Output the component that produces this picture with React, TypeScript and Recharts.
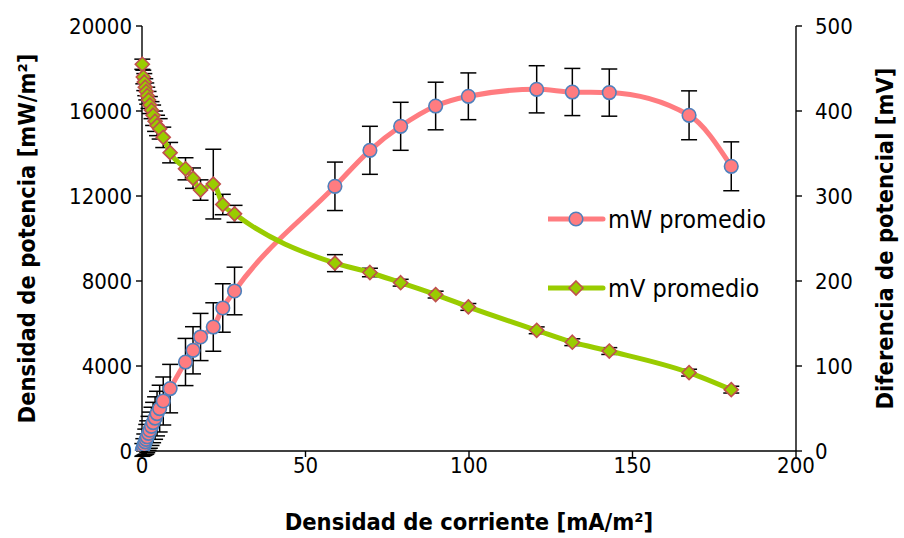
import React from 'react'
import { ComposedChart, Line, XAxis, YAxis, ErrorBar, Legend } from 'recharts'

// corriente [mA/m2]
const currentDensity = [
  0.1, 0.4, 0.7, 1.0, 1.3, 1.6, 2.0, 2.4, 2.9, 3.4, 4.0, 4.6, 5.4, 6.5, 8.6,
  13.3, 15.6, 17.9, 21.8, 24.7, 28.3, 59.0, 69.7, 79.1, 89.8, 99.8, 120.7,
  131.6, 142.9, 167.3, 180.2,
]
// potencia promedio [mW/m2]
const powerMean = [
  50, 180, 300, 430, 550, 670, 830, 980, 1160, 1340, 1550, 1760, 1995, 2353, 2936,
  4188, 4739, 5365, 5835, 6730, 7530, 12456, 14150, 15280, 16235, 16692, 17021,
  16894, 16866, 15798, 13398,
]
const powerErr = [
  300, 400, 500, 600, 700, 750, 800, 850, 900, 950, 1000, 1050, 1100, 1130, 1140,
  1110, 1110, 1110, 1140, 1140, 1120, 1140, 1130, 1130, 1120, 1100, 1110,
  1110, 1110, 1150, 1150,
]
// diferencia de potencial [mV]
const voltageMean = [
  455, 440, 434, 428, 423, 418, 413, 407, 401, 395, 388, 383, 379, 369, 351,
  332, 321, 307, 314, 290, 279, 221, 210, 198, 184, 169.5, 142,
  128, 117.6, 92.2, 72.2,
]
const voltageErr = [
  6, 8, 10, 10, 10, 10, 10, 10, 10, 12, 12, 12, 12, 12, 12,
  13, 12, 12, 41, 12, 10, 10, 5, 4, 4, 4, 4,
  4, 4, 4, 4,
]

const xTicks = [0, 50, 100, 150, 200]
const leftTicks = [0, 4000, 8000, 12000, 16000, 20000]
const rightTicks = [0, 100, 200, 300, 400, 500]

const data = currentDensity.map((x, i) => ({
  x,
  mW: powerMean[i],
  mWErr: powerErr[i],
  mV: voltageMean[i],
  mVErr: voltageErr[i],
}))

const FONT = "'DejaVu Sans Condensed', 'DejaVu Sans', sans-serif"
const PINK = '#FF7C80'
const GREEN = '#99CC00'

const Circle = (props: any) => {
  const { cx, cy, index } = props
  if (cx == null || cy == null) return null
  return <circle key={`c${index}`} cx={cx} cy={cy} r={6.8} fill={PINK} stroke="#4F81BD" strokeWidth={1.6} />
}

const Diamond = (props: any) => {
  const { cx, cy, index } = props
  if (cx == null || cy == null) return null
  const s = 7
  return (
    <polygon
      key={`d${index}`}
      points={`${cx},${cy - s} ${cx + s},${cy} ${cx},${cy + s} ${cx - s},${cy}`}
      fill={GREEN}
      stroke="#C0504D"
      strokeWidth={1.6}
    />
  )
}

const LegendBox = () => (
  <svg width={250} height={110}>
    <line x1={0} y1={22} x2={55} y2={22} stroke={PINK} strokeWidth={5} strokeLinecap="round" />
    <circle cx={28} cy={22} r={6.8} fill={PINK} stroke="#4F81BD" strokeWidth={1.6} />
    <text x={60} y={22} dominantBaseline="central" fontSize={25} fontFamily={FONT} fill="#000">mW promedio</text>
    <line x1={0} y1={91} x2={55} y2={91} stroke={GREEN} strokeWidth={5} strokeLinecap="round" />
    <polygon points="28,84 35,91 28,98 21,91" fill={GREEN} stroke="#C0504D" strokeWidth={1.6} />
    <text x={60} y={91} dominantBaseline="central" fontSize={25} fontFamily={FONT} fill="#000">mV promedio</text>
  </svg>
)

const tickStyle = { fill: '#000', fontSize: 22, fontFamily: FONT }
const titleStyle = { fontSize: 23.5, fontWeight: 'bold' as const, fontFamily: FONT, fill: '#000' }

export default function App() {
  return (
    <div style={{ position: 'absolute', left: 0, top: 0, background: '#fff' }}>
      <ComposedChart width={904} height={538} data={data} margin={{ top: 26, right: 0, bottom: 0, left: 0 }}>
        <XAxis
          type="number"
          dataKey="x"
          domain={[0, 200]}
          ticks={xTicks}
          height={87}
          stroke="#000"
          strokeWidth={1.4}
          tickSize={6}
          tickMargin={0}
          tick={tickStyle}
          label={{
            content: (p: any) => {
              const vb = p.viewBox
              return (
                <text x={vb.x + vb.width / 2} y={vb.y + 79} textAnchor="middle" {...titleStyle}>
                  Densidad de corriente [mA/m²]
                </text>
              )
            },
          }}
        />
        <YAxis
          yAxisId="left"
          type="number"
          domain={[0, 20000]}
          ticks={leftTicks}
          allowDataOverflow
          width={142}
          stroke="#000"
          strokeWidth={1.4}
          tickSize={6}
          tickMargin={4}
          tick={tickStyle}
          label={{
            content: (p: any) => {
              const vb = p.viewBox
              const cx = vb.x + 27
              const cy = vb.y + vb.height / 2
              return (
                <text x={cx} y={cy} textAnchor="middle" dominantBaseline="central" transform={`rotate(-90 ${cx} ${cy})`} {...titleStyle}>
                  Densidad de potencia [mW/m²]
                </text>
              )
            },
          }}
        />
        <YAxis
          yAxisId="right"
          orientation="right"
          type="number"
          domain={[0, 500]}
          ticks={rightTicks}
          allowDataOverflow
          width={108}
          stroke="#000"
          strokeWidth={1.4}
          tickSize={6}
          tickMargin={13}
          tick={tickStyle}
          label={{
            content: (p: any) => {
              const vb = p.viewBox
              const cx = vb.x + 89
              const cy = vb.y + vb.height / 2
              return (
                <text x={cx} y={cy} textAnchor="middle" dominantBaseline="central" transform={`rotate(-90 ${cx} ${cy})`} {...titleStyle}>
                  Diferencia de potencial [mV]
                </text>
              )
            },
          }}
        />
        <Line
          yAxisId="left"
          dataKey="mW"
          name="mW promedio"
          type="monotone"
          stroke={PINK}
          strokeWidth={5}
          dot={<Circle />}
          activeDot={false}
          isAnimationActive={false}
        >
          <ErrorBar dataKey="mWErr" direction="y" width={8} stroke="#000" strokeWidth={1.5} />
        </Line>
        <Line
          yAxisId="right"
          dataKey="mV"
          name="mV promedio"
          type="monotone"
          stroke={GREEN}
          strokeWidth={5}
          dot={<Diamond />}
          activeDot={false}
          isAnimationActive={false}
        >
          <ErrorBar dataKey="mVErr" direction="y" width={8} stroke="#000" strokeWidth={1.5} />
        </Line>
        <Legend
          layout="vertical"
          verticalAlign="middle"
          align="center"
          wrapperStyle={{ left: 548, top: 197, width: 250 }}
          content={() => <LegendBox />}
        />
      </ComposedChart>
    </div>
  )
}
